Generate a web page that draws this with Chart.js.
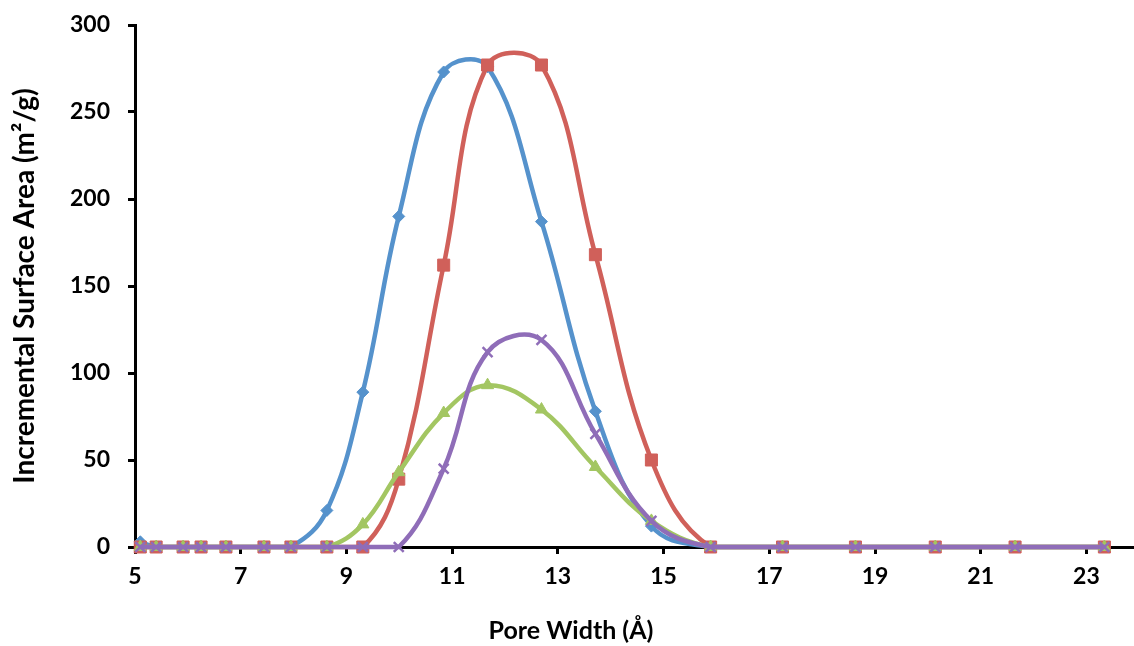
<!DOCTYPE html>
<html>
<head>
<meta charset="utf-8">
<script src="https://cdn.jsdelivr.net/npm/chart.js@4.4.1/dist/chart.umd.min.js"></script>
<style>
  html, body { margin: 0; padding: 0; background: #fff; }
</style>
</head>
<body>
<canvas id="poreChart" width="1134" height="646"></canvas>
<script>
// pore widths (Å) where the samples were taken
const poreWidths = [5.10, 5.40, 5.91, 6.25, 6.72, 7.44, 7.95, 8.63, 9.31, 9.99, 10.84,
                    11.67, 12.69, 13.71, 14.77, 15.89, 17.25, 18.63, 20.14, 21.65, 23.34];

// incremental surface area (m²/g) per sample
const blueArea   = [3, 0, 0, 0, 0, 0, 0, 21, 89, 190, 273, 276, 187, 78, 12, 0, 0, 0, 0, 0, 0];
const redArea    = [0, 0, 0, 0, 0, 0, 0, 0, 0, 39, 162, 277, 277, 168, 50, 0, 0, 0, 0, 0, 0];
const greenArea  = [0, 0, 0, 0, 0, 0, 0, 0, 13, 43, 77, 93, 79, 46, 15, 0, 0, 0, 0, 0, 0];
const purpleArea = [0, 0, 0, 0, 0, 0, 0, 0, 0, 0, 45, 112, 119, 65, 15, 0, 0, 0, 0, 0, 0];

const xTickValues = [5, 7, 9, 11, 13, 15, 17, 19, 21, 23];
const yTickValues = [0, 50, 100, 150, 200, 250, 300];

const xTitle = 'Pore Width (Å)';
const yTitle = 'Incremental Surface Area (m²/g)';

Chart.defaults.font.family = 'Lato';
Chart.defaults.font.weight = 'bold';
Chart.defaults.font.size = 23;
Chart.defaults.color = '#000';

const toPoints = vals => poreWidths.map((x, i) => ({ x: x, y: vals[i] }));

const series = (vals, color, style, radius, order) => ({
    data: toPoints(vals),
    showLine: true,
    borderColor: color,
    backgroundColor: color,
    borderWidth: 4.5,
    tension: 0.4,
    pointStyle: style,
    pointRadius: radius,
    pointBorderWidth: style === 'crossRot' ? 2.5 : 1,
    pointBorderColor: color,
    pointBackgroundColor: color,
    clip: false,
    order: order
});

// x-axis title sits left of centre in the original, so draw it by hand
const xTitlePlugin = {
    id: 'xTitle',
    afterDraw(chart) {
        const { ctx, chartArea } = chart;
        ctx.save();
        ctx.font = 'bold 25px Lato';
        ctx.fillStyle = '#000';
        ctx.textAlign = 'center';
        ctx.textBaseline = 'middle';
        ctx.fillText(xTitle, chartArea.left + 436, chartArea.bottom + 84);
        ctx.restore();
    }
};

new Chart(document.getElementById('poreChart'), {
    type: 'scatter',
    data: {
        datasets: [
            series(blueArea, '#5592CC', 'rectRot', 6, 4),
            series(redArea, '#D0605A', 'rect', 8.5, 3),
            series(greenArea, '#A3C662', 'triangle', 7, 2),
            series(purpleArea, '#8F6DB8', 'crossRot', 7, 1)
        ]
    },
    options: {
        responsive: false,
        animation: false,
        devicePixelRatio: 1,
        layout: { autoPadding: false, padding: { top: 25, right: 0, left: 0, bottom: 0 } },
        plugins: {
            legend: { display: false },
            tooltip: { enabled: false }
        },
        scales: {
            x: {
                type: 'linear',
                min: 5,
                max: 23.9,
                afterBuildTicks: s => { s.ticks = xTickValues.map(v => ({ value: v })); },
                afterFit: s => { s.height = 99; s.paddingLeft = 0; s.paddingRight = 0; },
                grid: { drawOnChartArea: false, drawTicks: true, tickLength: 7, tickWidth: 3, tickColor: '#000', color: '#000' },
                border: { color: '#000', width: 3 },
                ticks: { padding: 9, maxRotation: 0 }
            },
            y: {
                min: 0,
                max: 300,
                afterBuildTicks: s => { s.ticks = yTickValues.map(v => ({ value: v })); },
                afterFit: s => { s.width = 135; s.paddingTop = 0; s.paddingBottom = 0; },
                grid: { drawOnChartArea: false, drawTicks: true, tickLength: 7, tickWidth: 3, tickColor: '#000', color: '#000' },
                border: { color: '#000', width: 3 },
                ticks: { padding: 18 },
                title: { display: true, text: yTitle, font: { size: 28, weight: 'bold' }, padding: { top: 8, bottom: 0 } }
            }
        }
    },
    plugins: [xTitlePlugin]
});
</script>
</body>
</html>
